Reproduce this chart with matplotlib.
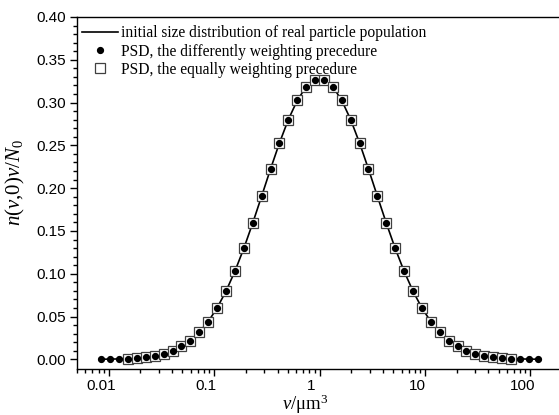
import matplotlib
matplotlib.use("Agg")
import matplotlib.pyplot as plt
from matplotlib.transforms import ScaledTranslation

plt.rcParams['mathtext.fontset'] = 'custom'
plt.rcParams['mathtext.rm'] = 'Liberation Serif'
plt.rcParams['mathtext.it'] = 'Liberation Serif:italic'

# particle volume grid (um^3)
v = [0.008503, 0.01033, 0.01255, 0.01525, 0.01853, 0.02250, 0.02734, 0.03321,
     0.04034, 0.04902, 0.05952, 0.07231, 0.08787, 0.1067, 0.1296, 0.1575,
     0.1913, 0.2324, 0.2822, 0.3429, 0.4165, 0.5061, 0.6148, 0.7469, 0.9074,
     1.102, 1.339, 1.627, 1.976, 2.401, 2.916, 3.543, 4.303, 5.228, 6.351,
     7.715, 9.371, 11.38, 13.83, 16.80, 20.40, 24.79, 30.11, 36.58, 44.44,
     53.98, 65.58, 79.66, 96.77, 117.6]

# n(v,0)v/N0 of the initial population
psd = [0.000147, 0.000272, 0.000492, 0.000866, 0.00148, 0.00248, 0.00404,
       0.00642, 0.00994, 0.0150, 0.0220, 0.0316, 0.0441, 0.0600, 0.0796,
       0.1029, 0.1296, 0.1592, 0.1905, 0.2223, 0.2527, 0.2801, 0.3025,
       0.3185, 0.3267,
       0.3267, 0.3185, 0.3025, 0.2801, 0.2527, 0.2223, 0.1905, 0.1592,
       0.1296, 0.1029, 0.0796, 0.0600, 0.0441, 0.0316, 0.0220, 0.0150,
       0.00994, 0.00642, 0.00404, 0.00248, 0.00148, 0.000866, 0.000492,
       0.000272, 0.000147]

# equally weighting procedure only covers the inner part of the grid
v_eq = v[3:47]
psd_eq = psd[3:47]

xticks = [0.01, 0.1, 1, 10, 100]
xtick_labels = ['0.01', '0.1', '1', '10', '100']
yticks = [0.00, 0.05, 0.10, 0.15, 0.20, 0.25, 0.30, 0.35, 0.40]

fig = plt.figure(figsize=(5.59, 4.15), dpi=100)
ax = fig.add_axes([77/559, 46/415, 485/559, 352/415])

ax.plot(v, psd, color='black', lw=1.2, zorder=2,
        label='initial size distribution of real particle population')
ax.plot(v, psd, ls='none', marker='o', ms=4.2, color='black', zorder=4,
        label='PSD, the differently weighting precedure')
ax.plot(v_eq, psd_eq, ls='none', marker='s', ms=6.5, mfc='white',
        mec='#404040', mew=0.9, zorder=3,
        label='PSD, the equally weighting precedure')

ax.set_xscale('log')
ax.set_xlim(0.005, 200)
ax.set_ylim(-0.0113, 0.40)
ax.set_xticks(xticks)
ax.set_xticklabels(xtick_labels)
ax.set_yticks(yticks)
ax.set_yticklabels([f'{t:.2f}' for t in yticks])
ax.set_yticks([i/100 for i in range(0, 41)], minor=True)

ax.tick_params(axis='both', which='major', direction='out', length=5, width=1,
               labelsize=11)
ax.tick_params(axis='both', which='minor', direction='out', length=3, width=1)
ax.tick_params(axis='x', pad=2)
ax.tick_params(axis='y', pad=3)
for lab in ax.get_xticklabels() + ax.get_yticklabels():
    lab.set_fontfamily('Liberation Sans')
# labels in the original sit a bit left of their ticks
shift = ScaledTranslation(-8/100, 0, fig.dpi_scale_trans)
for lab in ax.get_xticklabels():
    lab.set_transform(lab.get_transform() + shift)

for s in ax.spines.values():
    s.set_linewidth(1.0)

ax.set_ylabel(r'$n(v{,}0)v/N_0$', fontsize=15)
ax.yaxis.set_label_coords(-0.103, 0.531)
ax.set_xlabel(r'$v/\mathrm{\mu m}^{3}$', fontsize=13.5, labelpad=0)
ax.xaxis.set_label_coords((305 - 77) / 485, -0.067)

ax.legend(loc='upper left', frameon=False, prop={'family': 'Liberation Serif', 'size': 11.2},
          handlelength=2.35, handletextpad=0.2, labelspacing=0.15,
          borderpad=0.3, borderaxespad=0.0, bbox_to_anchor=(0.0, 0.99))

fig.savefig('out.png', dpi=100)
